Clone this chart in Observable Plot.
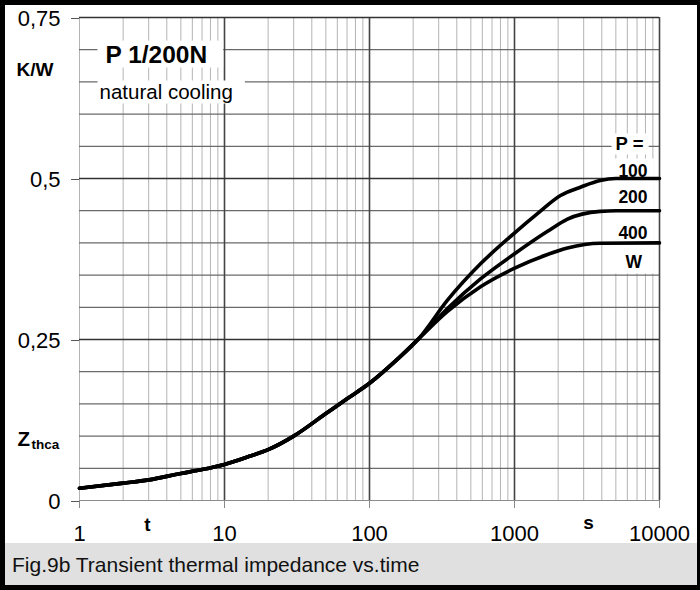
<!DOCTYPE html>
<html><head><meta charset="utf-8">
<script src="https://cdn.jsdelivr.net/npm/d3@7"></script>
<script src="https://cdn.jsdelivr.net/npm/@observablehq/plot@0.6"></script>
<style>
html,body{margin:0;padding:0;background:#fff;}
#wrap{position:relative;width:700px;height:590px;overflow:hidden;font-family:"Liberation Sans",Arial,sans-serif;background:#fff;}
#chart{position:absolute;left:0;top:0;}
.bd{position:absolute;background:#000;}
#caption{position:absolute;left:5px;top:543px;width:692px;height:42px;background:#e0e0e0;font-size:21px;line-height:21px;padding-top:11px;padding-left:7px;box-sizing:border-box;color:#111;white-space:nowrap;}
</style></head><body>
<div id="wrap">
  <div id="chart"></div>
  <div id="caption">Fig.9b Transient thermal impedance vs.time</div>
  <div class="bd" style="left:0;top:0;width:700px;height:5px"></div>
  <div class="bd" style="left:0;top:0;width:5px;height:590px"></div>
  <div class="bd" style="left:0;top:585px;width:700px;height:5px"></div>
  <div class="bd" style="left:697px;top:0;width:3px;height:590px"></div>
</div>
<script>
// ---- data ----
const tCommon = [1, 2, 3, 5, 7, 10, 15, 20, 30, 50, 70, 100, 150, 220];
const zCommon = [0.019, 0.027, 0.032, 0.042, 0.048, 0.056, 0.069, 0.079, 0.100, 0.135, 0.158, 0.182, 0.216, 0.252];
const t100 = [220, 345, 583, 985, 1433, 2075, 2850, 3900, 5000, 10000];
const z100 = [0.252, 0.311, 0.3675, 0.414, 0.445, 0.4736, 0.4865, 0.497, 0.5, 0.5];
const t200 = [220, 345, 583, 985, 1690, 2320, 3900, 5000, 10000];
const z200 = [0.252, 0.298, 0.344, 0.382, 0.418, 0.437, 0.449, 0.45, 0.45];
const t400 = [220, 345, 583, 985, 1690, 2320, 3900, 10000];
const z400 = [0.252, 0.2935, 0.332, 0.360, 0.382, 0.392, 0.3995, 0.4];
const seriesNames = ["100", "200", "400"];

const xTicks = [1, 10, 100, 1000, 10000];
const xTickLabels = ["1", "10", "100", "1000", "10000"];
const xMajor = [10, 100, 1000, 10000];
const xMinor = [1, 2, 3, 4, 5, 6, 7, 8, 9, 20, 30, 40, 50, 60, 70, 80, 90,
  200, 300, 400, 500, 600, 700, 800, 900, 2000, 3000, 4000, 5000, 6000, 7000, 8000, 9000];
const yTicks = [0, 0.25, 0.5, 0.75];
const yTickLabels = ["0", "0,25", "0,5", "0,75"];
const yMajor = [0.25, 0.5, 0.75];
const yMinor = [0.05, 0.1, 0.15, 0.2, 0.3, 0.35, 0.4, 0.45, 0.55, 0.6, 0.65, 0.7];

// annotations (anchored in data coordinates)
const titleNotes = [{label: "P 1/200N", t: 1.51, z: 0.680}];
const subtitleNotes = [{label: "natural cooling", t: 1.374, z: 0.6227}];
const pNotes = [{label: "P =", t: 6209, z: 0.5435}];
const powerNotes = [
  {label: "100", t: 6563, z: 0.5031},
  {label: "200", t: 6563, z: 0.4627},
  {label: "400", t: 6563, z: 0.4068},
  {label: "W", t: 6650, z: 0.3618}
];
const kwNotes = [{label: "K/W", t: 0.368, z: 0.6584}];
const zNotes = [{label: "Z", t: 0.3739, z: 0.0854}];
const unitMidNotes = [
  {label: "t", t: 2.944, z: -0.0481},
  {label: "s", t: 3238, z: -0.0435}
];
const subNotes = [{label: "thca", t: 0.467, z: 0.0792}];

// build table
const rows = [];
const branches = [[t100, z100], [t200, z200], [t400, z400]];
branches.forEach(([ts, zs], k) => {
  tCommon.forEach((t, i) => { if (t < ts[0]) rows.push({series: seriesNames[k], t, z: zCommon[i]}); });
  ts.forEach((t, i) => rows.push({series: seriesNames[k], t, z: zs[i]}));
});

const font = "Liberation Sans, Arial, Helvetica, sans-serif";
const svg = Plot.plot({
  width: 700, height: 543,
  marginLeft: 79, marginRight: 41, marginTop: 17, marginBottom: 43,
  x: {type: "log", domain: [1, 10000]},
  y: {domain: [0, 0.75]},
  style: {fontFamily: font, color: "#000", background: "transparent", overflow: "visible"},
  marks: [
    Plot.gridX(xMinor, {stroke: "#b4b4b4", strokeOpacity: 1, strokeWidth: 1}),
    Plot.gridY(yMinor, {stroke: "#6a6a6a", strokeOpacity: 1, strokeWidth: 1.2}),
    Plot.gridY([0], {stroke: "#8c8c8c", strokeOpacity: 1, strokeWidth: 1.2}),
    Plot.gridX(xMajor, {stroke: "#444", strokeOpacity: 1, strokeWidth: 1.6}),
    Plot.gridY(yMajor, {stroke: "#333", strokeOpacity: 1, strokeWidth: 1.6}),
    Plot.axisX({ticks: xTicks, tickFormat: d => xTickLabels[xTicks.indexOf(d)], tickSize: 8, tickPadding: 17,
      fontSize: 22, stroke: "#888", fill: "#000", label: null}),
    Plot.axisY({ticks: yTicks, tickFormat: d => yTickLabels[yTicks.indexOf(d)], tickSize: 8, tickPadding: 11,
      fontSize: 22, stroke: "#555", fill: "#000", dy: 1, label: null}),
    Plot.line(rows, {x: "t", y: "z", z: "series", curve: "monotone-x", stroke: "#000", strokeWidth: 3.6,
      strokeLinecap: "round", strokeLinejoin: "round"}),
    Plot.text(titleNotes, {x: "t", y: "z", text: "label", textAnchor: "start", lineAnchor: "bottom",
      fontSize: 24.5, fontWeight: "bold", fill: "#000"}),
    Plot.text(subtitleNotes, {x: "t", y: "z", text: "label", textAnchor: "start", lineAnchor: "bottom",
      fontSize: 20.5, fill: "#000"}),
    Plot.text(pNotes, {x: "t", y: "z", text: "label", textAnchor: "middle", lineAnchor: "bottom",
      fontSize: 18.5, fontWeight: "bold", fill: "#000"}),
    Plot.text(powerNotes, {x: "t", y: "z", text: "label", textAnchor: "middle", lineAnchor: "bottom",
      fontSize: 17.5, fontWeight: "bold", fill: "#000"}),
    Plot.text(kwNotes, {x: "t", y: "z", text: "label", textAnchor: "start", lineAnchor: "bottom",
      fontSize: 19, fontWeight: "bold", fill: "#000"}),
    Plot.text(zNotes, {x: "t", y: "z", text: "label", textAnchor: "start", lineAnchor: "bottom",
      fontSize: 20.5, fontWeight: "bold", fill: "#000"}),
    Plot.text(unitMidNotes, {x: "t", y: "z", text: "label", textAnchor: "middle", lineAnchor: "bottom",
      fontSize: 19, fontWeight: "bold", fill: "#000"}),
    Plot.text(subNotes, {x: "t", y: "z", text: "label", textAnchor: "start", lineAnchor: "bottom",
      fontSize: 13.5, fontWeight: "bold", fill: "#000"})
  ]
});
document.getElementById("chart").appendChild(svg);

// white label backgrounds, inserted under the curves
try {
  const svgRect = svg.getBoundingClientRect();
  const allText = Array.from(svg.querySelectorAll("text"));
  const boxGroups = [
    {labels: ["P 1/200N"], padL: 8, padR: 16, padY: 0},
    {labels: ["natural cooling"], padL: 2, padR: 12, padY: 0},
    {labels: ["P ="], padL: 4, padR: 5, padY: 0},
    {labels: ["100", "200", "400", "W"], padL: 7, padR: 6, padY: 2}
  ];
  const lineG = svg.querySelector('g[aria-label="line"]') ||
    Array.from(svg.children).find(el => el.querySelector && el.querySelector("path"));
  boxGroups.forEach(({labels, padL, padR, padY}) => {
    let x0 = Infinity, y0 = Infinity, x1 = -Infinity, y1 = -Infinity;
    allText.forEach(tx => {
      if (!labels.includes(tx.textContent)) return;
      const g = tx.parentNode;
      if (g && g.getAttribute && /axis|tick/.test(g.getAttribute("aria-label") || "")) return;
      const b = tx.getBoundingClientRect();
      x0 = Math.min(x0, b.left - svgRect.left); y0 = Math.min(y0, b.top - svgRect.top);
      x1 = Math.max(x1, b.right - svgRect.left); y1 = Math.max(y1, b.bottom - svgRect.top);
    });
    if (!isFinite(x0)) return;
    const r = document.createElementNS("http://www.w3.org/2000/svg", "rect");
    r.setAttribute("x", x0 - padL); r.setAttribute("y", y0 - padY);
    r.setAttribute("width", x1 - x0 + padL + padR); r.setAttribute("height", y1 - y0 + 2 * padY);
    r.setAttribute("fill", "#fff");
    if (lineG && lineG.parentNode === svg) svg.insertBefore(r, lineG); else svg.insertBefore(r, svg.firstChild.nextSibling);
  });
} catch (e) { console.error(e); }
</script>
</body></html>
